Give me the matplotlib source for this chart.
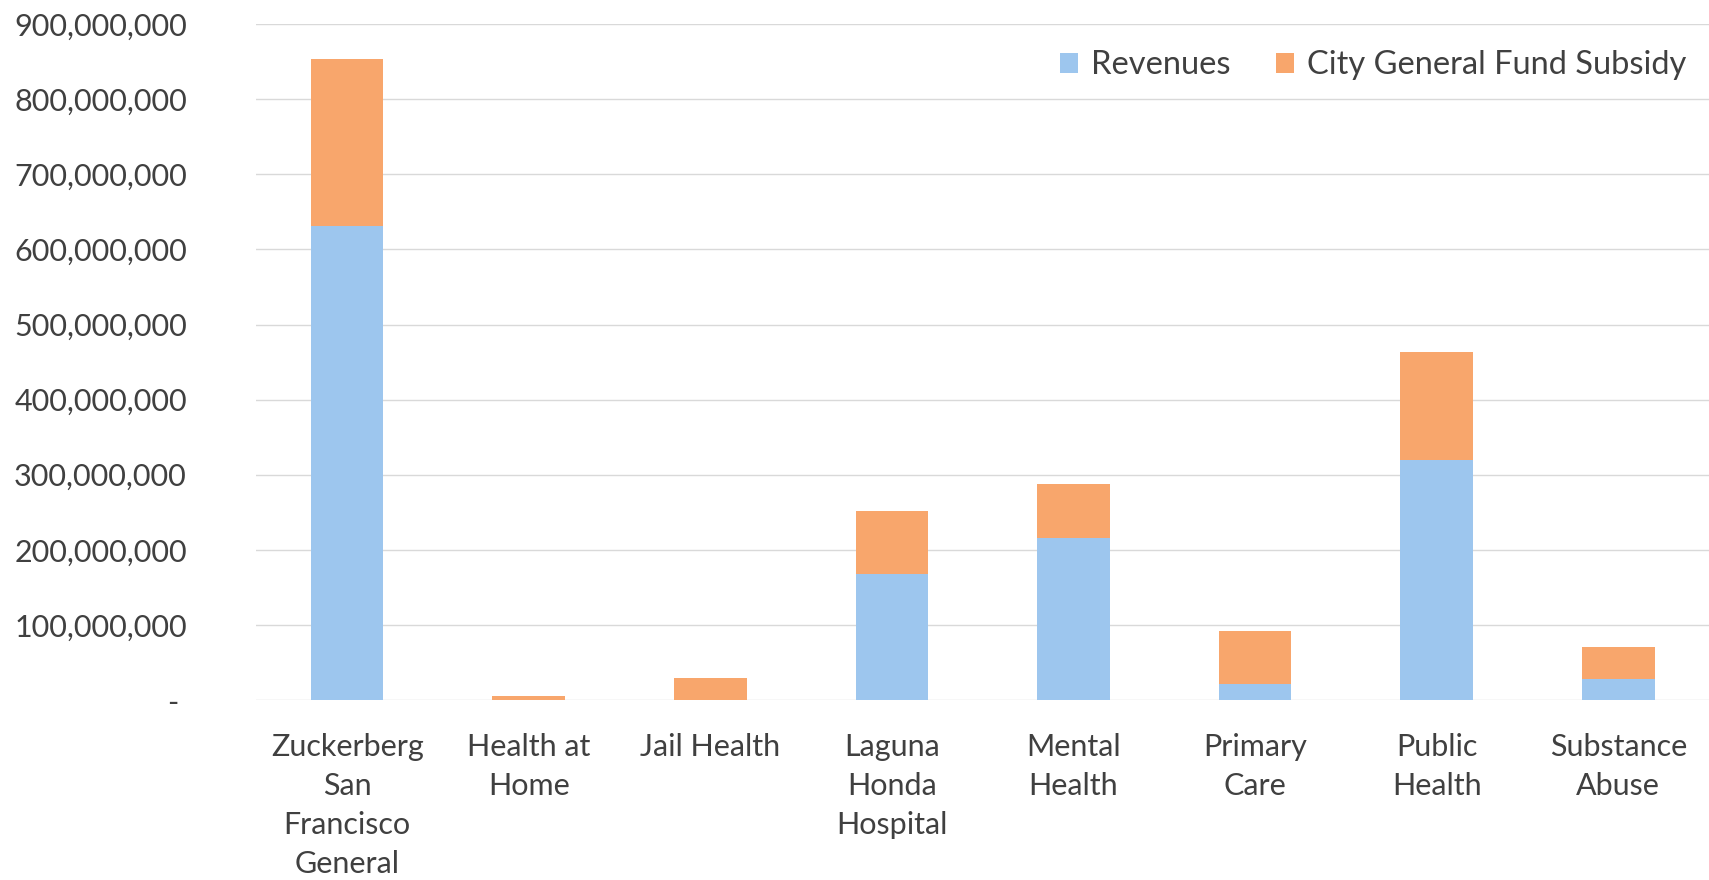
import numpy as np
import matplotlib
matplotlib.use("Agg")
import matplotlib.pyplot as plt
from matplotlib.ticker import FuncFormatter, MultipleLocator

plt.rcParams["font.family"] = ["Lato", "DejaVu Sans"]

categories = ["Zuckerberg\nSan\nFrancisco\nGeneral", "Health at\nHome", "Jail Health",
              "Laguna\nHonda\nHospital", "Mental\nHealth", "Primary\nCare",
              "Public\nHealth", "Substance\nAbuse"]
revenues = [631e6, 0, 0, 168e6, 216e6, 22e6, 319e6, 28e6]
totals = [853e6, 5e6, 29e6, 252e6, 288e6, 92e6, 463e6, 71e6]
subsidy = [t - r for t, r in zip(totals, revenues)]

blue = "#9dc6ee"
orange = "#f8a66c"
txt = "#404040"

fig = plt.figure(figsize=(17.09, 8.80), dpi=100)
ax = fig.add_axes([0.150, 0.2045, 0.850, 0.768])

x = np.arange(len(categories))
ax.bar(x, revenues, 0.4, color=blue, label="Revenues")
ax.bar(x, subsidy, 0.4, bottom=revenues, color=orange, label="City General Fund Subsidy")

ax.set_xlim(-0.5, len(categories) - 0.5)
ax.set_ylim(0, 900e6)
ax.yaxis.set_major_locator(MultipleLocator(100e6))

def fmt(v, pos):
    # zero shows as an accounting dash
    if v == 0:
        return "- "
    return "{:,.0f}".format(v)

ax.yaxis.set_major_formatter(FuncFormatter(fmt))
ax.grid(axis="y", color="#d9d9d9", linewidth=1)
ax.set_axisbelow(True)
for s in ax.spines.values():
    s.set_visible(False)

ax.set_xticks(x)
ax.set_xticklabels(categories, linespacing=1.47)
ax.tick_params(axis="both", length=0, labelsize=22, colors=txt)
ax.tick_params(axis="y", pad=50)
ax.tick_params(axis="x", pad=24)

leg = ax.legend(loc="upper right", ncol=2, frameon=False, fontsize=23.5,
                handlelength=0.55, handleheight=0.55, handletextpad=0.4,
                columnspacing=1.4, bbox_to_anchor=(1.0, 0.995), borderaxespad=0.3)
for t in leg.get_texts():
    t.set_color(txt)

fig.savefig("out.png", dpi=100)
